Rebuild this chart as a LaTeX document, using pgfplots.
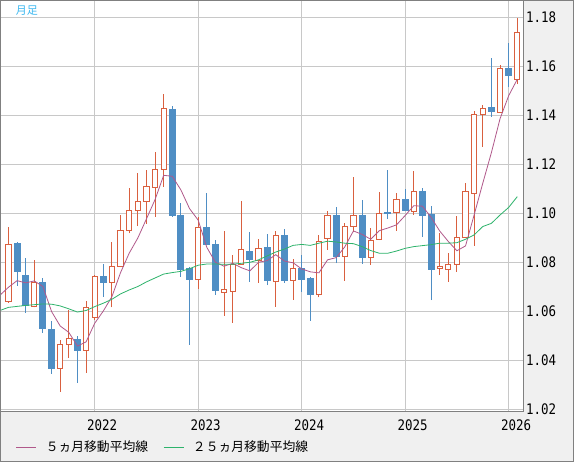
\documentclass[border=0pt]{standalone}
\usepackage{pgfplots}
\pgfplotsset{compat=1.18}
\usepackage{pgfplotstable}
\usetikzlibrary{backgrounds}
\usepackage{fontspec}
\newfontfamily\cjk{Noto Sans CJK JP}
\newfontfamily\tickfont[FakeStretch=0.86]{DejaVu Sans Mono}
\definecolor{upc}{HTML}{D9603F}
\definecolor{dnc}{HTML}{4F8EC4}
\definecolor{maf}{HTML}{B0588A}
\definecolor{mat}{HTML}{2DB36B}
\definecolor{gridc}{HTML}{C8C8C8}
\definecolor{bgc}{HTML}{F0F0F0}
\definecolor{framec}{HTML}{808080}
\definecolor{titlec}{HTML}{3CB8F0}

\pgfplotstableread{
i o h l c
0 1.0639 1.0944 1.0635 1.0873
1 1.0875 1.0882 1.0705 1.0762
2 1.0748 1.0819 1.0595 1.0622
3 1.0619 1.0810 1.0616 1.0718
4 1.0718 1.0736 1.0513 1.0529
5 1.0524 1.0561 1.0346 1.0366
6 1.0367 1.0483 1.0272 1.0465
7 1.0465 1.0605 1.0411 1.0490
8 1.0486 1.0499 1.0309 1.0439
9 1.0441 1.0642 1.0350 1.0616
10 1.0576 1.0747 1.0565 1.0743
11 1.0744 1.0793 1.0660 1.0717
12 1.0717 1.0883 1.0616 1.0784
13 1.0784 1.0993 1.0780 1.0931
14 1.0931 1.1102 1.0918 1.1012
15 1.1012 1.1165 1.0948 1.1049
16 1.1049 1.1177 1.0958 1.1110
17 1.1106 1.1250 1.0986 1.1180
18 1.1180 1.1487 1.1109 1.1426
19 1.1422 1.1438 1.0986 1.0989
20 1.0993 1.1044 1.0741 1.0769
21 1.0774 1.0782 1.0464 1.0731
22 1.0731 1.0984 1.0692 1.0943
23 1.0943 1.1083 1.0870 1.0872
24 1.0873 1.0891 1.0668 1.0684
25 1.0678 1.0928 1.0582 1.0690
26 1.0680 1.0829 1.0554 1.0789
27 1.0792 1.1050 1.0790 1.0853
28 1.0846 1.0924 1.0720 1.0810
29 1.0807 1.0897 1.0717 1.0857
30 1.0859 1.0916 1.0707 1.0724
31 1.0721 1.0929 1.0619 1.0910
32 1.0910 1.0936 1.0717 1.0724
33 1.0727 1.0814 1.0648 1.0776
34 1.0776 1.0830 1.0679 1.0729
35 1.0732 1.0740 1.0562 1.0668
36 1.0668 1.0912 1.0657 1.0886
37 1.0897 1.1011 1.0852 1.0992
38 1.0993 1.1026 1.0797 1.0822
39 1.0824 1.0961 1.0724 1.0946
40 1.0946 1.1148 1.0922 1.0992
41 1.0993 1.1054 1.0795 1.0819
42 1.0819 1.0939 1.0789 1.0890
43 1.0891 1.1086 1.0890 1.1000
44 1.1003 1.1177 1.0977 1.0998
45 1.1004 1.1084 1.0929 1.1057
46 1.1057 1.1099 1.1010 1.1011
47 1.1008 1.1173 1.0995 1.1090
48 1.1087 1.1105 1.0905 1.0990
49 1.0997 1.1030 1.0646 1.0770
50 1.0773 1.0918 1.0748 1.0781
51 1.0771 1.0839 1.0721 1.0792
52 1.0792 1.0989 1.0762 1.0902
53 1.0902 1.1124 1.0900 1.1090
54 1.1082 1.1418 1.0868 1.1404
55 1.1404 1.1444 1.1272 1.1427
56 1.1430 1.1635 1.1395 1.1415
57 1.1411 1.1605 1.1410 1.1592
58 1.1592 1.1695 1.1517 1.1562
59 1.1547 1.1796 1.1527 1.1739
}\candles

\pgfplotstableread{
i m
-1 1.0665
0 1.0698
1 1.0725
2 1.0716
3 1.0724
4 1.0701
5 1.0599
6 1.0540
7 1.0514
8 1.0458
9 1.0475
10 1.0551
11 1.0601
12 1.0660
13 1.0758
14 1.0837
15 1.0899
16 1.0977
17 1.1056
18 1.1155
19 1.1151
20 1.1095
21 1.1019
22 1.0972
23 1.0861
24 1.0800
25 1.0784
26 1.0796
27 1.0778
28 1.0765
29 1.0800
30 1.0807
31 1.0831
32 1.0805
33 1.0798
34 1.0773
35 1.0761
36 1.0757
37 1.0810
38 1.0819
39 1.0863
40 1.0928
41 1.0914
42 1.0894
43 1.0929
44 1.0940
45 1.0953
46 1.0991
47 1.1031
48 1.1029
49 1.0984
50 1.0928
51 1.0885
52 1.0847
53 1.0867
54 1.0994
55 1.1123
56 1.1248
57 1.1386
58 1.1480
59 1.1547
}\mafive

\pgfplotstableread{
i m
-1 1.0603
0 1.0616
1 1.0620
2 1.0624
3 1.0627
4 1.0630
5 1.0629
6 1.0622
7 1.0610
8 1.0597
9 1.0603
10 1.0619
11 1.0633
12 1.0649
13 1.0671
14 1.0687
15 1.0701
16 1.0720
17 1.0736
18 1.0752
19 1.0758
20 1.0763
21 1.0774
22 1.0788
23 1.0793
24 1.0793
25 1.0792
26 1.0792
27 1.0796
28 1.0800
29 1.0810
30 1.0826
31 1.0842
32 1.0854
33 1.0869
34 1.0873
35 1.0869
36 1.0878
37 1.0886
38 1.0883
39 1.0878
40 1.0876
41 1.0864
42 1.0848
43 1.0837
44 1.0837
45 1.0846
46 1.0857
47 1.0864
48 1.0868
49 1.0872
50 1.0878
51 1.0878
52 1.0880
53 1.0894
54 1.0912
55 1.0946
56 1.0959
57 1.0993
58 1.1024
59 1.1068
}\matwentyfive

\begin{document}
\begin{tikzpicture}[x=1pt,y=1pt]
\begin{axis}[
  width=523pt, height=411pt, scale only axis,
  xmin=-0.92, xmax=59.72,
  ymin=1.0191, ymax=1.18686,
  axis background/.style={fill=white},
  axis line style={framec, line width=1pt},
  xtick={10,22,34,46,58},
  xticklabels={2022,2023,2024,2025,2026},
  ytick={1.02,1.04,1.06,1.08,1.10,1.12,1.14,1.16,1.18},
  yticklabels={1.02,1.04,1.06,1.08,1.10,1.12,1.14,1.16,1.18},
  yticklabel pos=right,
  major tick length=0pt,
  grid=major,
  major grid style={gridc, line width=0.9pt},
  xticklabel style={anchor=center, inner sep=0pt, xshift=7.5pt, yshift=-13.5pt, font=\tickfont\fontsize{14.5}{14.5}\selectfont},
  yticklabel style={anchor=west, inner sep=0pt, xshift=2.5pt, font=\tickfont\fontsize{14.5}{14.5}\selectfont},
  legend style={at={(axis description cs:0.0296,-0.0864)}, anchor=west,
    inner sep=0pt, outer sep=0pt, draw=none, fill=none,
    font=\cjk\fontsize{12.8}{13}\selectfont,
    nodes={inner sep=0pt},
    /tikz/every odd column/.style={column sep=9pt},
    /tikz/every even column/.style={column sep=15pt}},
  legend columns=2,
  legend cell align=left,
  legend image code/.code={\draw[#1] (0pt,0pt) -- (20pt,0pt);},
]
\pgfplotsinvokeforeach{0,...,59}{%
  \pgfplotstablegetelem{#1}{o}\of\candles \let\O\pgfplotsretval
  \pgfplotstablegetelem{#1}{h}\of\candles \let\H\pgfplotsretval
  \pgfplotstablegetelem{#1}{l}\of\candles \let\L\pgfplotsretval
  \pgfplotstablegetelem{#1}{c}\of\candles \let\C\pgfplotsretval
  \pgfplotstablegetelem{#1}{i}\of\candles \let\I\pgfplotsretval
  \ifdim\C pt<\O pt
    \def\col{dnc}\def\fil{dnc}\def\hw{0.35}%
  \else
    \def\col{upc}\def\fil{white}\def\hw{0.30}%
  \fi
  \pgfmathsetmacro\xa{\I-\hw}%
  \pgfmathsetmacro\xb{\I+\hw}%
  \edef\temp{%
    \noexpand\addplot[draw=\col, line width=1pt, forget plot] coordinates {(\I,\L) (\I,\H)};
    \noexpand\addplot[draw=\col, fill=\fil, line width=1pt, forget plot] coordinates {(\xa,\O) (\xb,\O) (\xb,\C) (\xa,\C)} -- cycle;
  }\temp
}
\addplot[maf, line width=0.8pt] table[x=i, y=m] {\mafive};
\addlegendentry{５ヵ月移動平均線}
\addplot[mat, line width=0.8pt] table[x=i, y=m] {\matwentyfive};
\addlegendentry{２５ヵ月移動平均線}
\coordinate (axsw) at (rel axis cs:0,0);
\end{axis}
\pgfresetboundingbox
\begin{scope}[shift={(axsw)}]
  \useasboundingbox (-0.5,-50.5) rectangle (573.5,411.5);
  \begin{scope}[on background layer]
    \fill[bgc] (-0.5,-50.5) rectangle (573.5,411.5);
  \end{scope}
  \node[text=titlec, font=\cjk\fontsize{11}{11}\selectfont, inner sep=0pt] at (26.5,401) {月足};
  \draw[framec, line width=1pt] (0,-50) rectangle (573,411);
\end{scope}
\end{tikzpicture}
\end{document}
